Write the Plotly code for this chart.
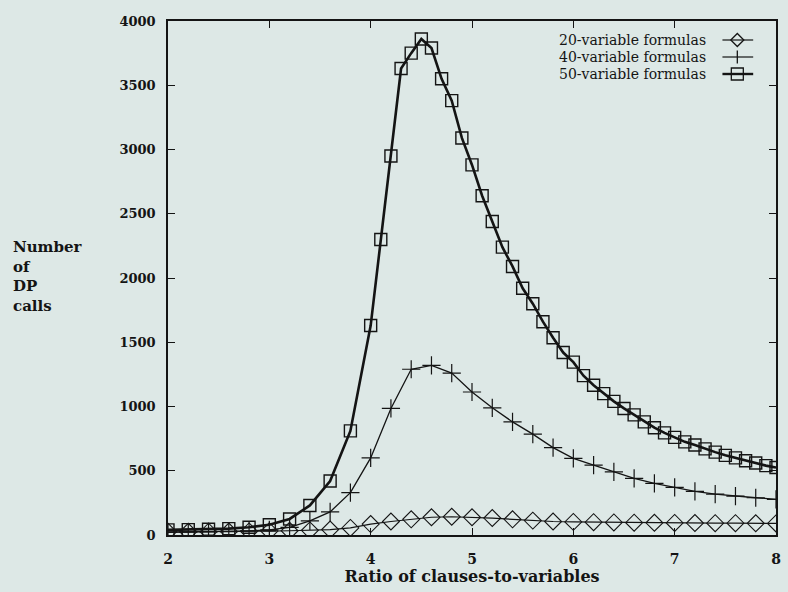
import plotly.graph_objects as go

# ---- data ----
ratio_20 = [2.0, 2.2, 2.4, 2.6, 2.8, 3.0, 3.2, 3.4, 3.6, 3.8, 4.0, 4.2, 4.4, 4.6, 4.8, 5.0,
            5.2, 5.4, 5.6, 5.8, 6.0, 6.2, 6.4, 6.6, 6.8, 7.0, 7.2, 7.4, 7.6, 7.8, 8.0]
calls_20 = [25, 25, 26, 27, 28, 30, 33, 36, 42, 55, 85, 105, 122, 138, 142, 138,
            132, 122, 112, 105, 102, 100, 98, 96, 95, 94, 93, 92, 92, 91, 90]

ratio_40 = [2.0, 2.2, 2.4, 2.6, 2.8, 3.0, 3.2, 3.4, 3.6, 3.8, 4.0, 4.2, 4.4, 4.6, 4.8, 5.0,
            5.2, 5.4, 5.6, 5.8, 6.0, 6.2, 6.4, 6.6, 6.8, 7.0, 7.2, 7.4, 7.6, 7.8, 8.0]
calls_40 = [20, 22, 24, 27, 32, 40, 60, 110, 180, 330, 600, 985, 1290, 1320, 1260, 1113,
            990, 880, 785, 680, 596, 544, 492, 440, 402, 370, 340, 318, 302, 290, 278]

ratio_50 = [2.0, 2.2, 2.4, 2.6, 2.8, 3.0, 3.2, 3.4, 3.6, 3.8,
            4.0, 4.1, 4.2, 4.3, 4.4, 4.5, 4.6, 4.7, 4.8, 4.9,
            5.0, 5.1, 5.2, 5.3, 5.4, 5.5, 5.6, 5.7, 5.8, 5.9,
            6.0, 6.1, 6.2, 6.3, 6.4, 6.5, 6.6, 6.7, 6.8, 6.9,
            7.0, 7.1, 7.2, 7.3, 7.4, 7.5, 7.6, 7.7, 7.8, 7.9, 8.0]
calls_50 = [40, 42, 45, 50, 60, 80, 125, 230, 420, 810,
            1630, 2300, 2950, 3630, 3750, 3860, 3790, 3550, 3380, 3090,
            2880, 2640, 2440, 2240, 2090, 1920, 1800, 1660, 1535, 1420,
            1345, 1240, 1165, 1100, 1040, 985, 935, 880, 835, 795,
            760, 725, 700, 670, 645, 620, 600, 578, 560, 540, 525]

series_names = ["20-variable formulas", "40-variable formulas", "50-variable formulas"]
x_ticks = [2, 3, 4, 5, 6, 7, 8]
y_ticks = [0, 500, 1000, 1500, 2000, 2500, 3000, 3500, 4000]
x_title = "Ratio of clauses-to-variables"
y_title_lines = ["Number", "of", "DP", "calls"]

INK = "#141414"
BG = "#dde8e6"
SERIF = "DejaVu Serif"

fig = go.Figure()
fig.add_trace(go.Scatter(
    x=ratio_20, y=calls_20, mode="lines+markers", name=series_names[0],
    line=dict(color=INK, width=1.2),
    marker=dict(symbol="diamond-open", size=13, color=INK, line=dict(width=1.1, color=INK)),
    showlegend=False))
fig.add_trace(go.Scatter(
    x=ratio_40, y=calls_40, mode="lines+markers", name=series_names[1],
    line=dict(color=INK, width=1.3),
    marker=dict(symbol="cross-thin-open", size=13, color=INK, line=dict(width=1.2, color=INK)),
    showlegend=False))
fig.add_trace(go.Scatter(
    x=ratio_50, y=calls_50, mode="lines+markers", name=series_names[2],
    line=dict(color=INK, width=2.6),
    marker=dict(symbol="square-open", size=12, color=INK, line=dict(width=1.4, color=INK)),
    showlegend=False))

# ---- gnuplot-style key (text then sample) ----
L, R, T, B = 168, 781, 21, 535
W, H = R - L, B - T

def px(xp):
    return (xp - L) / W

def py(yp):
    return (B - yp) / H

rows_y = [40, 57, 74]
symbols = ["diamond", "plus", "square"]
for name, yy, sym in zip(series_names, rows_y, symbols):
    fig.add_annotation(x=px(712), y=py(yy), xref="paper", yref="paper",
                       text=name, showarrow=False, xanchor="right", yanchor="middle",
                       font=dict(family=SERIF, size=14, color=INK))
    fig.add_shape(type="line", xref="paper", yref="paper",
                  x0=px(727), x1=px(758), y0=py(yy), y1=py(yy),
                  line=dict(color=INK, width=2.4 if sym == "square" else 1.2))
    if sym == "diamond":
        path = "M -6.5,0 L 0,6.5 L 6.5,0 L 0,-6.5 Z"
    elif sym == "square":
        path = "M -6,-6 L 6,-6 L 6,6 L -6,6 Z"
    else:
        path = "M 0,-6.5 L 0,6.5"
    fig.add_shape(type="path", xref="paper", yref="paper",
                  xsizemode="pixel", ysizemode="pixel",
                  xanchor=px(742), yanchor=py(yy), path=path,
                  line=dict(color=INK, width=1.3))

# ---- y title, horizontal at left ----
fig.add_annotation(x=px(10), y=py(276), xref="paper", yref="paper",
                   text="<br>".join(y_title_lines), showarrow=False,
                   xanchor="left", yanchor="middle", align="left",
                   font=dict(family=SERIF, size=15, color=INK, weight="bold"))

fig.update_layout(
    width=788, height=592,
    margin=dict(l=L, r=788 - R, t=T, b=592 - B),
    paper_bgcolor=BG, plot_bgcolor=BG,
    font=dict(family=SERIF, color=INK),
    xaxis=dict(
        range=[2, 8], tickvals=x_ticks, ticktext=[str(v) for v in x_ticks],
        ticks="inside", ticklen=7, tickwidth=1.2, tickcolor=INK,
        showline=True, linecolor=INK, linewidth=1.6, mirror="ticks",
        showgrid=False, zeroline=False, ticklabelstandoff=10,
        tickfont=dict(family=SERIF, size=14, color=INK, weight="bold"),
        title=dict(text=x_title, standoff=2,
                   font=dict(family=SERIF, size=16, color=INK, weight="bold")),
    ),
    yaxis=dict(
        range=[0, 4000], tickvals=y_ticks, ticktext=[str(v) for v in y_ticks],
        ticks="inside", ticklen=7, tickwidth=1.2, tickcolor=INK,
        showline=True, linecolor=INK, linewidth=1.6, mirror="ticks",
        showgrid=False, zeroline=False, ticklabelstandoff=8,
        tickfont=dict(family=SERIF, size=13, color=INK, weight="bold"),
    ),
)

fig.write_html("out.html")
